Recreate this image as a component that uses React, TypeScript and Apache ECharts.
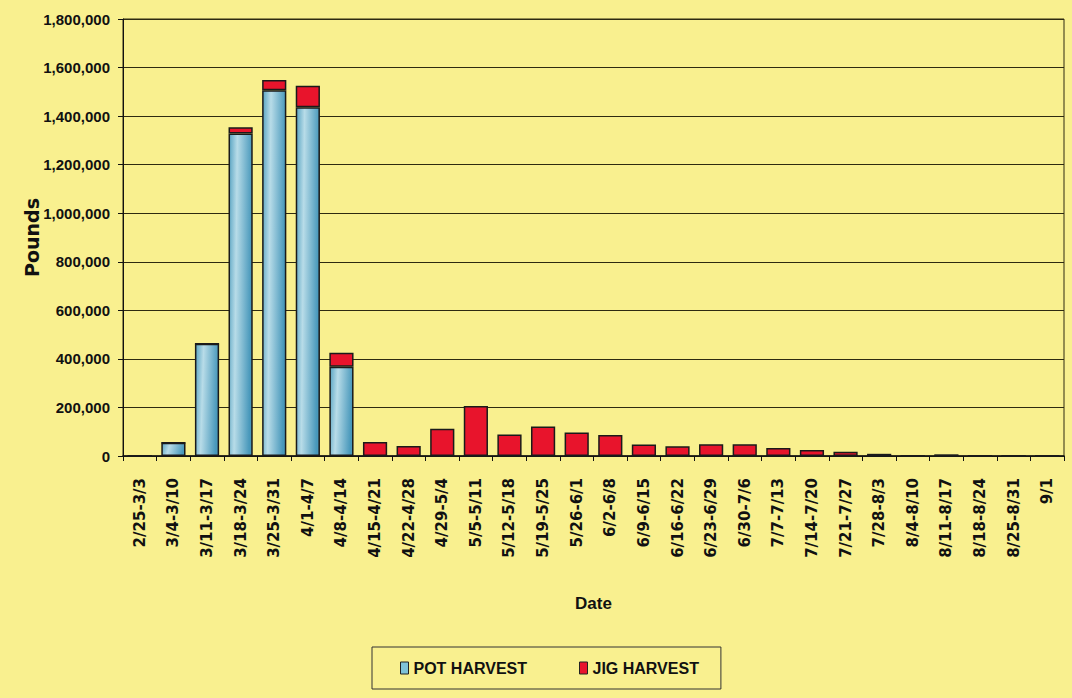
import React, { useEffect, useRef } from "react";
import * as echarts from "echarts";

const categories = [
  "2/25-3/3", "3/4-3/10", "3/11-3/17", "3/18-3/24", "3/25-3/31", "4/1-4/7", "4/8-4/14",
  "4/15-4/21", "4/22-4/28", "4/29-5/4", "5/5-5/11", "5/12-5/18", "5/19-5/25", "5/26-6/1",
  "6/2-6/8", "6/9-6/15", "6/16-6/22", "6/23-6/29", "6/30-7/6", "7/7-7/13", "7/14-7/20",
  "7/21-7/27", "7/28-8/3", "8/4-8/10", "8/11-8/17", "8/18-8/24", "8/25-8/31", "9/1",
];

const potHarvest = [
  0, 55000, 462000, 1328000, 1507000, 1436000, 368000,
  0, 0, 0, 0, 0, 0, 0,
  0, 0, 0, 0, 0, 0, 0,
  0, 0, 0, 0, 0, 0, 0,
];

const jigHarvest = [
  0, 0, 0, 26000, 42000, 89000, 57000,
  58000, 41000, 112000, 206000, 89000, 122000, 97000,
  86000, 47000, 40000, 48000, 48000, 33000, 25000,
  18000, 9000, 0, 7000, 0, 0, 0,
];

const yTicks = { min: 0, max: 1800000, interval: 200000 };

const FONT = "'Liberation Sans', Arial, sans-serif";
const XFONT = "'DejaVu Sans', sans-serif";

export default function App() {
  const ref = useRef<HTMLDivElement>(null);
  useEffect(() => {
    if (!ref.current) return;
    const chart = echarts.init(ref.current, undefined, { renderer: "svg" });
    const potColor = new echarts.graphic.LinearGradient(0, 0, 1, 0.15, [
      { offset: 0, color: "#5aa5c3" },
      { offset: 0.35, color: "#b8dce8" },
      { offset: 1, color: "#4898bb" },
    ]);
    chart.setOption({
      animation: false,
      backgroundColor: "#f9f08f",
      textStyle: { fontFamily: FONT },
      grid: {
        left: 123,
        right: 8,
        top: 19,
        bottom: 242,
        show: true,
        borderColor: "#2e2a10",
        borderWidth: 1,
        containLabel: false,
      },
      legend: {
        left: 372,
        top: 647,
        padding: [13, 22, 13, 28],
        itemGap: 52,
        itemWidth: 8,
        itemHeight: 12,
        borderColor: "#333",
        borderWidth: 1,
        textStyle: { fontFamily: FONT, fontWeight: "bold", fontSize: 16, color: "#111" },
        data: [
          { name: "POT HARVEST", icon: "rect", itemStyle: { color: "#7fc3d8", borderColor: "#222", borderWidth: 1 } },
          { name: "JIG HARVEST", icon: "rect", itemStyle: { color: "#e8142c", borderColor: "#222", borderWidth: 1 } },
        ],
      },
      xAxis: {
        type: "category",
        data: categories,
        name: "Date",
        nameLocation: "middle",
        nameGap: 139,
        nameTextStyle: { fontFamily: FONT, fontWeight: "bold", fontSize: 17, color: "#111" },
        axisLine: { lineStyle: { color: "#111", width: 1.5 } },
        axisTick: { show: true, length: 5, lineStyle: { color: "#111" } },
        axisLabel: {
          rotate: 90,
          interval: 0,
          margin: 22,
          fontFamily: XFONT,
          fontWeight: "bold",
          fontSize: 15,
          color: "#111",
        },
      },
      yAxis: {
        type: "value",
        min: yTicks.min,
        max: yTicks.max,
        interval: yTicks.interval,
        name: "Pounds",
        nameLocation: "middle",
        nameGap: 82,
        nameMoveOverlap: false,
        nameTextStyle: { fontFamily: XFONT, fontWeight: "bold", fontSize: 19, color: "#111" },
        axisLine: { show: true, lineStyle: { color: "#111", width: 1 } },
        axisTick: { show: true, length: 5, lineStyle: { color: "#111" } },
        splitLine: { lineStyle: { color: "#2e2a10", width: 1 } },
        axisLabel: {
          margin: 13,
          fontFamily: FONT,
          fontWeight: "bold",
          fontSize: 15,
          color: "#111",
          formatter: (v: number) => v.toLocaleString("en-US"),
        },
      },
      series: [
        {
          name: "POT HARVEST",
          type: "bar",
          stack: "total",
          data: potHarvest,
          barCategoryGap: "28%",
          itemStyle: { color: potColor, borderColor: "#1a1a1a", borderWidth: 1.5 },
        },
        {
          name: "JIG HARVEST",
          type: "bar",
          stack: "total",
          data: jigHarvest,
          barCategoryGap: "28%",
          itemStyle: { color: "#e8142c", borderColor: "#1a1a1a", borderWidth: 1.5 },
        },
      ],
    });
    return () => chart.dispose();
  }, []);
  return <div ref={ref} style={{ width: 1072, height: 698, position: "fixed", left: 0, top: 0 }} />;
}
